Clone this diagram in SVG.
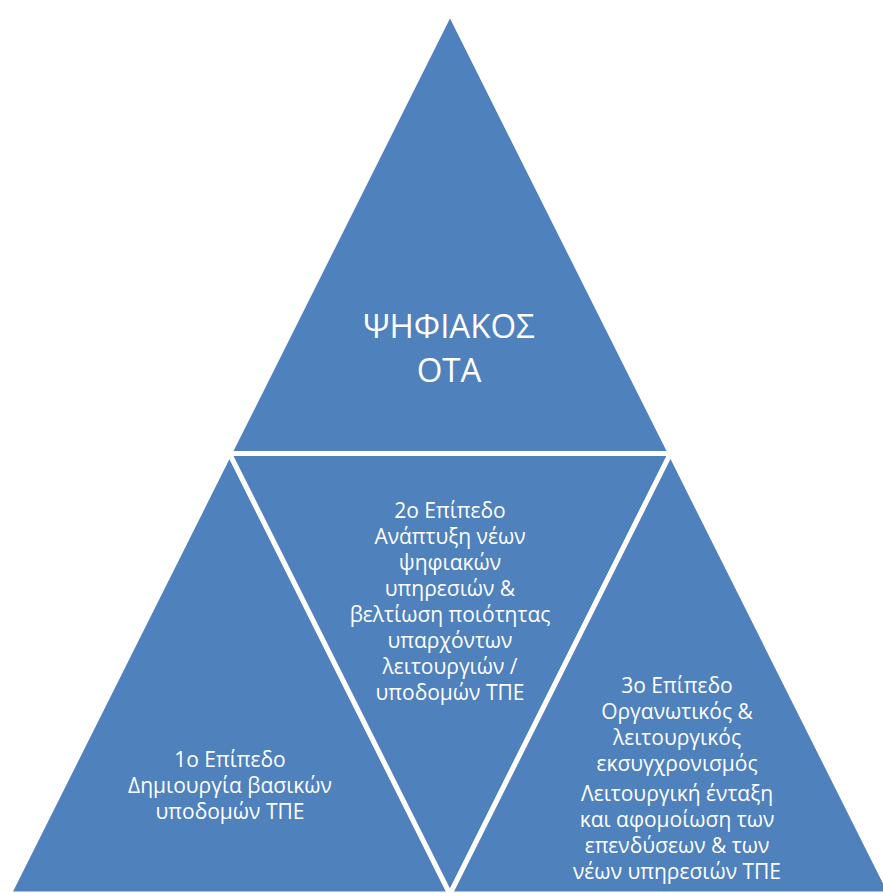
<svg xmlns="http://www.w3.org/2000/svg" width="883" height="893" viewBox="0 0 883 893">
<style>
.seg{fill:#4F81BD;stroke:#FFFFFF;stroke-width:5;stroke-linejoin:miter}
.t{fill:#FFFFFF;font-family:"Open Sans","Liberation Sans",sans-serif;text-anchor:middle}
.s{font-size:21px}
.big{font-size:33px}
</style>
<rect width="883" height="893" fill="#FFFFFF"/>
<g id="top">
<polygon class="seg" points="450,13 229.5,453.5 670.5,453.5"/>
<text class="t big"><tspan x="449" y="338">ΨΗΦΙΑΚΟΣ</tspan><tspan x="449" y="382">ΟΤΑ</tspan></text>
</g>
<g id="left">
<polygon class="seg" points="229.5,453.5 9,894 450,894"/>
<text class="t s"><tspan x="230" y="767">1ο Επίπεδο</tspan><tspan x="230" y="793">Δημιουργία βασικών</tspan><tspan x="230" y="819">υποδομών ΤΠΕ</tspan></text>
</g>
<g id="middle">
<polygon class="seg" points="229.5,453.5 670.5,453.5 450,894"/>
<text class="t s"><tspan x="450" y="518">2ο Επίπεδο</tspan><tspan x="450" y="544">Ανάπτυξη νέων</tspan><tspan x="450" y="570">ψηφιακών</tspan><tspan x="450" y="596">υπηρεσιών &amp;</tspan><tspan x="450" y="622">βελτίωση ποιότητας</tspan><tspan x="450" y="648">υπαρχόντων</tspan><tspan x="450" y="674">λειτουργιών /</tspan><tspan x="450" y="700">υποδομών ΤΠΕ</tspan></text>
</g>
<g id="right">
<polygon class="seg" points="670.5,453.5 450,894 891,894"/>
<text class="t s"><tspan x="677" y="693">3ο Επίπεδο</tspan><tspan x="677" y="719">Οργανωτικός &amp;</tspan><tspan x="677" y="745">λειτουργικός</tspan><tspan x="677" y="771">εκσυγχρονισμός</tspan></text>
<text class="t s"><tspan x="677" y="801">Λειτουργική ένταξη</tspan><tspan x="677" y="827">και αφομοίωση των</tspan><tspan x="677" y="853">επενδύσεων &amp; των</tspan><tspan x="677" y="879">νέων υπηρεσιών ΤΠΕ</tspan></text>
</g>
<g id="connectors"></g>
</svg>
